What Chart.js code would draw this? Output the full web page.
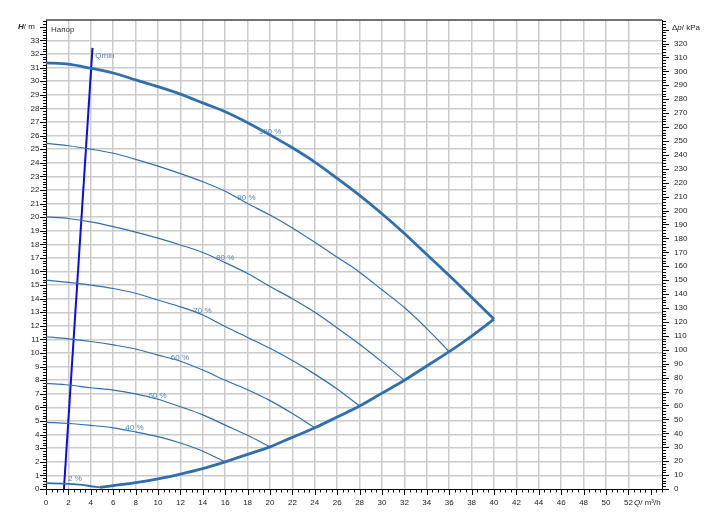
<!DOCTYPE html>
<html><head><meta charset="utf-8">
<script src="https://cdn.jsdelivr.net/npm/chart.js@4.4.0/dist/chart.umd.min.js"></script>
<style>html,body{margin:0;padding:0;background:#fff;}#wrap{width:721px;height:532px;position:relative;}</style>
</head><body><div id="wrap"><canvas id="c" width="721" height="532"></canvas></div>
<script>
// ---- data (Q in m3/h, H in m) ----
const flowSteps = [0,2,4,6,8,10,12,14,16,18,20,22,24,26,28,30,32,34,36,38,40];
const head100 = [31.35,31.25,30.95,30.6,30.1,29.6,29.05,28.4,27.75,26.95,26.05,25.1,24.05,22.85,21.6,20.25,18.8,17.25,15.7,14.1,12.5];
const head90  = [25.42,25.25,25.0,24.7,24.25,23.75,23.2,22.6,21.9,21.0,20.15,19.2,18.15,17.05,15.95,14.65,13.35,11.8,10.1];
const head80  = [20.02,19.9,19.65,19.3,18.9,18.45,17.95,17.4,16.65,15.85,14.9,14.0,13.0,11.85,10.65,9.35,8.0];
const head70  = [15.37,15.2,15.0,14.75,14.4,13.9,13.4,12.8,11.95,11.15,10.35,9.45,8.45,7.35,6.1];
const head60  = [11.2,11.05,10.85,10.6,10.3,9.85,9.4,8.75,8.0,7.3,6.5,5.55,4.5];
const head50  = [7.77,7.65,7.45,7.28,7.0,6.6,6.05,5.45,4.7,3.95,3.1];
const head40  = [4.9,4.82,4.68,4.5,4.2,3.85,3.38,2.78,2.0];
const flow2   = [0,2,3.2,3.9,4.8];
const head2   = [0.43,0.38,0.31,0.22,0.12];
const flowLimit = [4.8,6,8,10,12,14,16,18,20,22,24,26,28,30,32,34,36,38,40];
const headLimit = [0.12,0.25,0.47,0.75,1.1,1.5,2.0,2.55,3.1,3.8,4.5,5.3,6.1,7.05,8.0,9.05,10.1,11.25,12.5];
const flowQmin = [1.6,4.15];
const headQmin = [0,32.45];
const curveLabels = ['100 %','90 %','80 %','70 %','60 %','50 %','40 %','2 %'];
const labelFlow   = [20.0,17.9,16.0,13.97,11.96,9.96,7.9,2.59];
const labelHead   = [26.3,21.4,17.0,13.1,9.65,6.86,4.49,0.74];
const xTickLabels = [0,2,4,6,8,10,12,14,16,18,20,22,24,26,28,30,32,34,36,38,40,42,44,46,48,50,52];
const yTickLabels = [0,1,2,3,4,5,6,7,8,9,10,11,12,13,14,15,16,17,18,19,20,21,22,23,24,25,26,27,28,29,30,31,32,33];
const kPaTickLabels = [0,10,20,30,40,50,60,70,80,90,100,110,120,130,140,150,160,170,180,190,200,210,220,230,240,250,260,270,280,290,300,310,320];
const kPaPerMetre = 9.765;
const xMax = 55, yMax = 34.5;

const pts = (xs, ys) => ys.map((y, i) => ({x: xs[i], y}));
const CURVE = '#2f6fad';
const FONT = "'Liberation Sans', Arial, sans-serif";

function ds(data, w, color) {
  return {data, borderColor: color || CURVE, borderWidth: w, pointRadius: 0, fill: false,
          cubicInterpolationMode: 'monotone', yAxisID: 'y', xAxisID: 'x'};
}

const extras = {
  id: 'extras',
  afterDraw(chart) {
    const c = chart.ctx, a = chart.chartArea;
    const sx = chart.scales.x, sy = chart.scales.y, sy2 = chart.scales.y2;
    c.save();
    // top frame
    c.strokeStyle = '#444'; c.lineWidth = 1.5;
    c.beginPath(); c.moveTo(a.left, a.top); c.lineTo(a.right, a.top); c.stroke();
    c.strokeStyle = '#000'; c.lineWidth = 1;
    // x ticks every 0.5
    for (let i = 0; i <= xMax * 2; i++) {
      const v = i / 2; const px = Math.round(sx.getPixelForValue(v)) + 0.5;
      const len = (i % 4 === 0) ? 6 : 3.5;
      c.beginPath(); c.moveTo(px, a.bottom); c.lineTo(px, a.bottom + len); c.stroke();
    }
    // left y ticks every 0.2
    for (let i = 0; i <= Math.floor(yMax * 5); i++) {
      const v = i / 5; const py = Math.round(sy.getPixelForValue(v)) + 0.5;
      const len = (i % 5 === 0) ? 6 : 3;
      c.beginPath(); c.moveTo(a.left - len, py); c.lineTo(a.left, py); c.stroke();
    }
    // right y ticks every 2 kPa
    for (let i = 0; i <= Math.floor(yMax * kPaPerMetre / 2); i++) {
      const v = i * 2; const py = Math.round(sy2.getPixelForValue(v)) + 0.5;
      const len = (i % 5 === 0) ? 7 : 4;
      c.beginPath(); c.moveTo(a.right, py); c.lineTo(a.right + len, py); c.stroke();
    }
    // curve labels
    c.font = '8px ' + FONT; c.fillStyle = '#4f83bd';
    c.textAlign = 'center'; c.textBaseline = 'middle';
    curveLabels.forEach((t, i) => c.fillText(t, sx.getPixelForValue(labelFlow[i]), sy.getPixelForValue(labelHead[i])));
    c.textAlign = 'left';
    c.fillText('Qmin', sx.getPixelForValue(4.4), sy.getPixelForValue(31.9));
    c.fillStyle = '#333';
    c.fillText('Напор', a.left + 5, a.top + 10);
    // axis titles
    c.fillStyle = '#222';
    let x0, y0;
    // H/ m
    y0 = sy.getPixelForValue(34);
    c.textAlign = 'left';
    c.font = 'italic bold 8px ' + FONT;
    x0 = 18; c.fillText('H', x0, y0); x0 += c.measureText('H').width;
    c.font = '8px ' + FONT; c.fillText('/ m', x0, y0);
    // Δp/ kPa
    y0 = sy2.getPixelForValue(331);
    x0 = 672;
    c.fillText('Δ', x0, y0); x0 += c.measureText('Δ').width;
    c.font = 'italic 8px ' + FONT; c.fillText('p', x0, y0); x0 += c.measureText('p').width;
    c.font = '8px ' + FONT; c.fillText('/ kPa', x0, y0);
    // Q/ m³/h
    y0 = a.bottom + 14;
    x0 = sx.getPixelForValue(52.5);
    c.font = 'italic 8px ' + FONT; c.fillText('Q', x0, y0); x0 += c.measureText('Q').width;
    c.font = '8px ' + FONT; c.fillText('/ m³/h', x0, y0);
    c.restore();
  }
};

const gridColor = '#cbcbcb';
new Chart(document.getElementById('c'), {
  type: 'line',
  data: {
    datasets: [
      ds(pts(flowSteps, head100), 2.8),
      ds(pts(flowSteps, head90), 1.2),
      ds(pts(flowSteps, head80), 1.2),
      ds(pts(flowSteps, head70), 1.2),
      ds(pts(flowSteps, head60), 1.2),
      ds(pts(flowSteps, head50), 1.2),
      ds(pts(flowSteps, head40), 1.2),
      ds(pts(flow2, head2), 1.8),
      ds(pts(flowLimit, headLimit), 2.8),
      Object.assign(ds(pts(flowQmin, headQmin), 2, '#0a0af5'), {cubicInterpolationMode: 'default', tension: 0})
    ]
  },
  options: {
    responsive: false, animation: false, devicePixelRatio: 1,
    layout: {padding: {left: 0, right: 0, top: 20, bottom: 0}},
    plugins: {legend: {display: false}, tooltip: {enabled: false}},
    scales: {
      x: {
        type: 'linear', position: 'bottom', min: 0, max: xMax,
        afterFit: s => { s.height = 43; },
        grid: {drawTicks: false, lineWidth: 1.5,
               color: ctx => (ctx.tick && ctx.tick.value > 0 && ctx.tick.value < xMax && ctx.tick.value % 2 === 0) ? gridColor : 'rgba(0,0,0,0)'},
        border: {display: true, color: '#000', width: 1},
        ticks: {stepSize: 2, autoSkip: false, maxRotation: 0, padding: 9, color: '#222',
                font: {family: FONT, size: 8},
                callback: v => xTickLabels.includes(v) ? String(v) : ''}
      },
      y: {
        type: 'linear', position: 'left', min: 0, max: yMax,
        afterFit: s => { s.width = 46; },
        grid: {drawTicks: false, lineWidth: 1.5,
               color: ctx => (ctx.tick && ctx.tick.value > 0 && ctx.tick.value < yMax && Number.isInteger(ctx.tick.value)) ? gridColor : 'rgba(0,0,0,0)'},
        border: {display: true, color: '#000', width: 1},
        ticks: {stepSize: 1, autoSkip: false, padding: 6.5, color: '#222',
                font: {family: FONT, size: 8},
                callback: v => yTickLabels.includes(v) ? String(v) : ''}
      },
      y2: {
        type: 'linear', position: 'right', min: 0, max: yMax * kPaPerMetre,
        afterFit: s => { s.width = 59; },
        grid: {drawTicks: false, drawOnChartArea: false},
        border: {display: true, color: '#000', width: 1},
        ticks: {stepSize: 10, autoSkip: false, padding: 12, color: '#222',
                font: {family: FONT, size: 8},
                callback: v => kPaTickLabels.includes(v) ? String(v) : ''}
      }
    }
  },
  plugins: [extras]
});
</script></body></html>
